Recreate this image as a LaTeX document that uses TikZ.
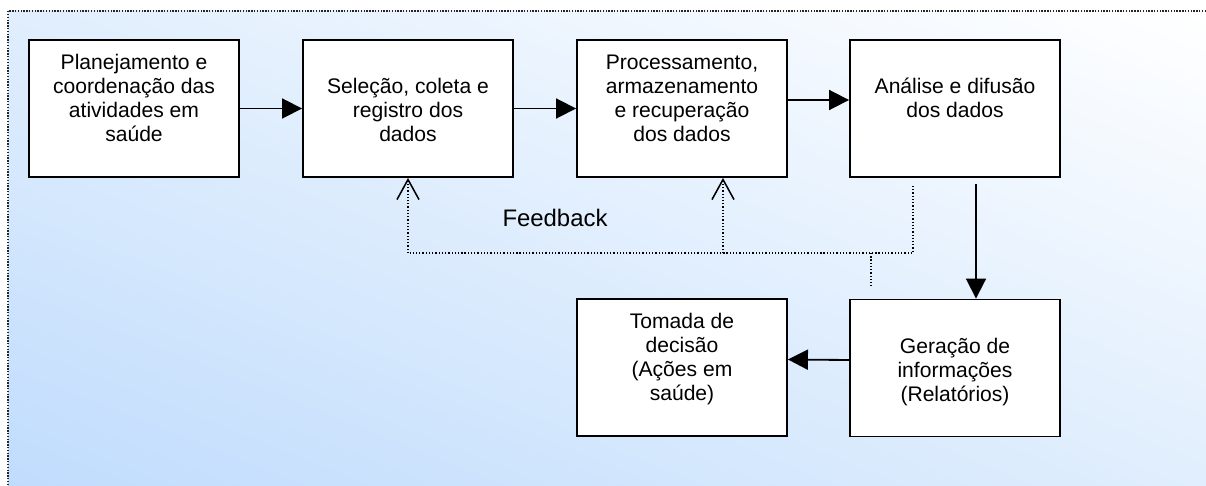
\documentclass[tikz,border=0pt]{standalone}
\usepackage{fontspec}
\setmainfont{Liberation Sans}
\usetikzlibrary{arrows.meta,calc,shadings}
\definecolor{fundoazul}{RGB}{192,220,253}
\definecolor{fundomeio}{RGB}{224,238,253}
\newcommand{\caixatexto}[1]{\parbox[c][2.765cm][t]{5cm}{\centering\strut#1}}
\tikzset{
  caixa/.style={draw=black, line width=1.3pt, fill=white, inner xsep=0.125cm, inner ysep=0.33cm},
  seta/.style={line width=1.3pt, -{Triangle[length=0.5cm,width=0.5cm]}},
  pontilhado/.style={line width=1pt, dash pattern=on 0.9pt off 1.4pt},
  retorno/.style={pontilhado, -{Straight Barb[length=0.5cm,width=0.55cm,line width=1.1pt]}},
}

\begin{document}
\begin{tikzpicture}[x=0.025cm, y=-0.025cm, font=\fontsize{15}{17}\selectfont]
	\useasboundingbox (0,0) rectangle (1206,486);
	\shade[lower left=fundoazul, lower right=fundomeio, upper left=fundomeio, upper right=white] (8,11) rectangle (1206,486);
	\draw[line width=1pt, dash pattern=on 1pt off 1pt, black!85] (1206,11) -- (8,11) -- (8,486);

	% linha de cima
	\node[caixa] (planej) at (134,108.5) {\caixatexto{Planejamento e\\coordenação das\\atividades em\\saúde}};
	\node[caixa] (selecao) at (408,108.5) {\caixatexto{\\Seleção, coleta e\\registro dos\\dados}};
	\node[caixa] (process) at (682,108.5) {\caixatexto{Processamento,\\armazenamento\\e recuperação\\dos dados}};
	\node[caixa] (analise) at (955,108.5) {\caixatexto{\\Análise e difusão\\dos dados}};

	% linha de baixo
	\node[caixa] (geracao) at (955,368) {\caixatexto{\\Geração de\\informações\\(Relatórios)}};
	\node[caixa] (tomada) at (682,367.5) {\caixatexto{Tomada de\\decisão\\(Ações em\\saúde)}};

	\draw[seta] (planej) -- (selecao);
	\draw[seta] (selecao) -- (process);
	\draw[seta] ($(process.east)+(0,-8.5)$) -- ($(analise.west)+(0,-8.5)$);
	\coordinate (saida) at ($(analise.south)+(21,6)$);
	\draw[seta] (saida) -- (saida |- geracao.north);
	\draw[seta] ($(geracao.west)+(0,-8)$) -- ($(tomada.east)+(0,-8)$);

	% feedback
	\coordinate (fb0) at (913,186);
	\coordinate (fb1) at (913,253);
	\coordinate (fb2) at (871,253);
	\coordinate (fb3) at (871,286);
	\coordinate (fb4) at (723,253);
	\coordinate (fb5) at (408,253);
	\draw[pontilhado] (fb0) -- (fb1) -- (fb5);
	\draw[pontilhado] (fb2) -- (fb3);
	\draw[retorno] (fb5) -- (selecao.south);
	\draw[retorno] (fb4) -- (fb4 |- process.south);
	\node[font=\fontsize{17}{20}\selectfont] (feedback) at (555,218) {Feedback};
\end{tikzpicture}
\end{document}
